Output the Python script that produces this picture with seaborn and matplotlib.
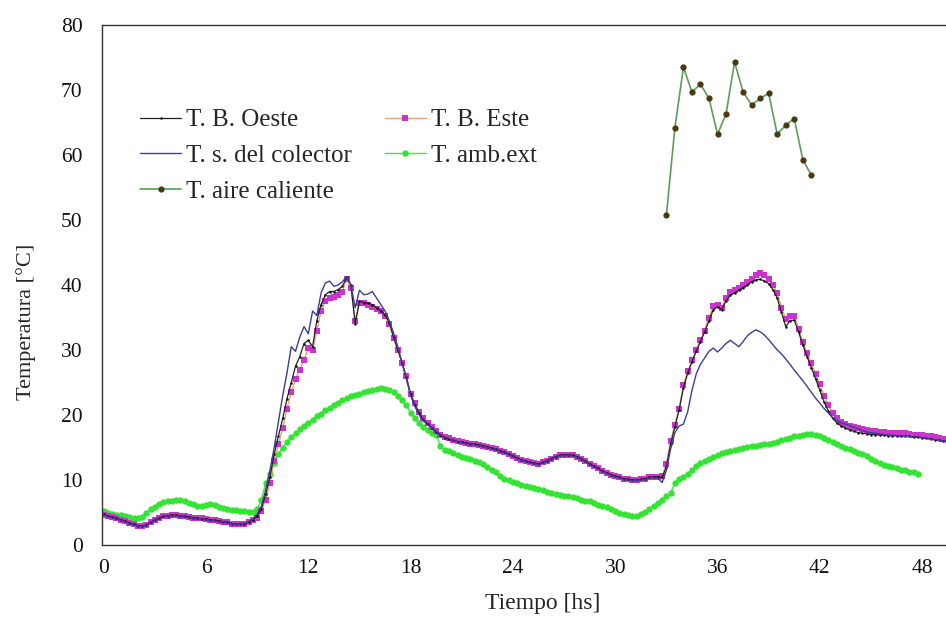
import numpy as np
import pandas as pd
import matplotlib
matplotlib.use("Agg")
import matplotlib.pyplot as plt
import seaborn as sns

# sampling grid of the logger (every 15 min), hours
hours = np.arange(0, 49.51, 0.25)
hours_amb = np.arange(0, 47.76, 0.25)
hours_aire = [33.0, 33.5, 34.0, 34.5, 35.0, 35.5, 36.0, 36.5, 37.0,
              37.5, 38.0, 38.5, 39.0, 39.5, 40.0, 40.5, 41.0, 41.5]

t_b_este = [
    4.6, 4.5, 4.3, 4.1, 3.9, 3.7, 3.4, 3.2, 3.0, 2.9, 3.1, 3.5,
    3.9, 4.2, 4.4, 4.5, 4.6, 4.6, 4.5, 4.4, 4.3, 4.2, 4.1, 4.1,
    4.0, 3.9, 3.8, 3.7, 3.6, 3.5, 3.3, 3.2, 3.3, 3.3, 3.5, 3.8,
    4.2, 5.2, 7.0, 9.5, 13.0, 15.5, 18.0, 21.0, 23.5, 25.5, 27.0, 28.5,
    30.3, 30.0, 33.0, 36.0, 37.5, 38.0, 38.2, 38.5, 39.0, 41.0, 39.5, 34.5,
    37.3, 37.2, 37.0, 36.6, 36.3, 36.0, 35.2, 34.0, 31.8, 30.0, 28.0, 26.0,
    23.3, 21.8, 20.5, 19.5, 18.8, 18.2, 17.5, 17.0, 16.6, 16.4, 16.2, 16.0,
    15.8, 15.7, 15.6, 15.5, 15.4, 15.3, 15.1, 14.9, 14.7, 14.5, 14.3, 14.0,
    13.7, 13.4, 13.1, 12.9, 12.7, 12.6, 12.5, 12.7, 13.0, 13.3, 13.6, 13.8,
    13.9, 13.9, 13.8, 13.6, 13.3, 12.9, 12.5, 12.1, 11.8, 11.4, 11.1, 10.8,
    10.6, 10.4, 10.2, 10.1, 10.0, 10.0, 10.1, 10.2, 10.4, 10.5, 10.5, 10.6,
    12.5, 16.0, 18.5, 21.0, 24.6, 26.7, 28.4, 30.0, 31.5, 33.0, 35.0, 36.8,
    37.0, 36.5, 38.0, 38.9, 39.2, 39.6, 40.0, 40.4, 41.0, 41.5, 41.8, 41.5,
    41.0, 40.0, 38.8, 36.5, 34.8, 35.2, 35.3, 33.3, 31.3, 29.5, 28.0, 26.3,
    24.7, 22.9, 21.5, 20.3, 19.5, 19.0, 18.6, 18.3, 18.1, 18.0, 17.9, 17.7,
    17.6, 17.5, 17.4, 17.4, 17.3, 17.3, 17.2, 17.2, 17.2, 17.1, 17.0, 17.0,
    16.9, 16.8, 16.7, 16.6, 16.4, 16.3, 16.1]

t_b_oeste = [
    4.7, 4.5, 4.3, 4.1, 3.9, 3.7, 3.4, 3.2, 3.0, 2.9, 3.1, 3.5,
    3.9, 4.2, 4.4, 4.5, 4.6, 4.6, 4.5, 4.4, 4.3, 4.2, 4.1, 4.0,
    4.0, 3.9, 3.8, 3.7, 3.6, 3.5, 3.3, 3.2, 3.3, 3.3, 3.5, 3.9,
    4.4, 5.6, 7.8, 10.5, 14.0, 16.8, 19.5, 22.5, 25.0, 27.5, 29.0, 31.0,
    31.5, 30.5, 34.5, 37.0, 38.5, 39.0, 39.0, 39.3, 39.8, 41.2, 40.0, 34.0,
    37.5, 37.3, 37.2, 37.0, 36.5, 36.0, 35.4, 34.2, 32.0, 30.0, 28.0, 25.8,
    23.2, 21.6, 20.3, 19.3, 18.6, 18.0, 17.4, 16.9, 16.5, 16.3, 16.1, 15.9,
    15.8, 15.7, 15.6, 15.5, 15.4, 15.3, 15.1, 14.9, 14.7, 14.5, 14.3, 14.0,
    13.7, 13.4, 13.1, 12.9, 12.7, 12.6, 12.5, 12.7, 13.0, 13.3, 13.6, 13.8,
    13.9, 13.9, 13.8, 13.6, 13.3, 12.9, 12.5, 12.1, 11.8, 11.4, 11.1, 10.8,
    10.6, 10.4, 10.2, 10.1, 10.0, 10.0, 10.1, 10.2, 10.4, 10.5, 10.5, 10.4,
    12.0, 15.5, 18.2, 20.8, 24.2, 26.4, 28.2, 29.8, 31.3, 32.8, 34.5, 36.2,
    36.6, 36.2, 37.6, 38.4, 38.8, 39.2, 39.6, 40.0, 40.5, 40.8, 40.9, 40.6,
    40.2, 39.3, 38.0, 35.8, 33.6, 34.5, 34.6, 32.8, 30.8, 29.0, 27.3, 25.6,
    23.8, 22.0, 20.6, 19.5, 18.8, 18.3, 18.0, 17.7, 17.5, 17.3, 17.2, 17.1,
    17.0, 17.0, 16.9, 16.9, 16.8, 16.8, 16.8, 16.7, 16.7, 16.7, 16.6, 16.6,
    16.5, 16.4, 16.3, 16.2, 16.1, 16.0, 15.9]

t_s_colector = [
    4.6, 4.4, 4.2, 4.0, 3.8, 3.6, 3.3, 3.1, 2.9, 2.8, 3.0, 3.4,
    3.8, 4.1, 4.3, 4.4, 4.5, 4.5, 4.4, 4.3, 4.2, 4.1, 4.0, 4.0,
    3.9, 3.8, 3.7, 3.6, 3.5, 3.4, 3.2, 3.2, 3.2, 3.3, 3.6, 4.0,
    4.8, 6.0, 8.5, 11.5, 15.0, 19.0, 23.0, 26.5, 30.5, 29.8, 32.0, 33.6,
    32.5, 36.0, 35.3, 38.8, 40.3, 40.6, 39.8, 40.0, 40.5, 41.3, 40.0, 36.5,
    39.2, 38.5, 38.6, 39.0, 38.0, 37.0, 36.0, 34.5, 32.6, 30.5, 28.0, 25.5,
    23.0, 21.3, 20.0, 19.1, 18.5, 18.0, 17.5, 17.0, 16.6, 16.4, 16.1, 15.9,
    15.7, 15.6, 15.5, 15.4, 15.3, 15.2, 15.0, 14.8, 14.6, 14.4, 14.2, 13.9,
    13.6, 13.3, 13.0, 12.8, 12.6, 12.5, 12.4, 12.6, 12.9, 13.2, 13.5, 13.7,
    13.8, 13.8, 13.7, 13.5, 13.2, 12.8, 12.4, 12.0, 11.7, 11.3, 11.0, 10.7,
    10.5, 10.3, 10.1, 10.0, 9.9, 9.9, 10.0, 10.1, 10.3, 10.4, 10.3, 9.6,
    11.5, 14.8, 17.3, 18.3, 18.6, 20.5, 23.8, 26.3, 27.8, 28.8, 29.8, 30.3,
    29.7, 30.3, 31.0, 31.5, 31.0, 30.5, 31.3, 32.2, 32.7, 33.1, 32.8, 32.3,
    31.6, 30.8, 30.0, 29.4, 28.6, 27.8, 26.9, 26.1, 25.3, 24.4, 23.5, 22.6,
    21.8, 21.0, 20.3, 19.6, 19.1, 18.8, 18.6, 18.4, 18.1, 17.9, 17.6, 17.4,
    17.3, 17.2, 17.1, 17.0, 16.9, 16.9, 16.8, 16.8, 16.7, 16.7, 16.6, 16.6,
    16.5, 16.4, 16.3, 16.2, 16.1, 16.0, 15.9]

t_amb_ext = [
    5.2, 5.0, 4.8, 4.6, 4.6, 4.5, 4.3, 4.2, 4.1, 4.3, 4.9, 5.5,
    5.9, 6.3, 6.6, 6.7, 6.8, 6.9, 6.9, 6.7, 6.5, 6.3, 6.0, 6.0,
    6.2, 6.3, 6.1, 5.9, 5.7, 5.6, 5.4, 5.4, 5.3, 5.2, 5.1, 5.1,
    5.5, 7.0, 9.5, 11.0, 12.6, 14.0, 15.0, 15.8, 16.6, 17.2, 17.8, 18.3,
    18.8, 19.3, 19.8, 20.2, 20.7, 21.1, 21.5, 21.9, 22.3, 22.6, 22.9, 23.1,
    23.3, 23.5, 23.7, 23.9, 24.0, 24.1, 24.0, 23.9, 23.5, 23.0, 22.3, 21.5,
    20.3, 19.5, 18.8, 18.2, 17.7, 17.3, 17.0, 15.2, 14.6, 14.4, 14.1, 13.8,
    13.6, 13.4, 13.2, 13.0, 12.8, 12.4, 12.0, 11.6, 11.2, 10.6, 10.2, 10.0,
    9.7, 9.5, 9.3, 9.1, 9.0, 8.8, 8.6, 8.4, 8.2, 8.0, 7.9, 7.7,
    7.6, 7.5, 7.4, 7.2, 7.0, 6.8, 6.7, 6.5, 6.2, 6.0, 5.8, 5.6,
    5.3, 5.0, 4.8, 4.6, 4.4, 4.5, 4.8, 5.1, 5.6, 6.0, 6.5, 7.0,
    7.5, 8.0, 9.6, 10.1, 10.5, 11.0, 11.6, 12.2, 12.6, 13.0, 13.3, 13.6,
    13.9, 14.1, 14.3, 14.4, 14.6, 14.8, 15.0, 15.1, 15.2, 15.3, 15.4, 15.5,
    15.6, 15.7, 15.9, 16.1, 16.3, 16.5, 16.7, 16.8, 17.0, 17.1, 17.1, 17.0,
    16.8, 16.5, 16.2, 15.9, 15.6, 15.3, 15.0, 14.7, 14.4, 14.2, 14.0, 13.7,
    13.3, 13.0, 12.6, 12.3, 12.1, 12.0, 11.8, 11.6, 11.5, 11.3, 11.2, 11.0]

t_aire_caliente = [50.7, 64.2, 73.5, 69.7, 70.9, 68.7, 63.2, 66.3, 74.3,
                   69.7, 67.7, 68.7, 69.5, 63.2, 64.6, 65.6, 59.3, 56.9]

x_ticks = [0, 6, 12, 18, 24, 30, 36, 42, 48]
y_ticks = [0, 10, 20, 30, 40, 50, 60, 70, 80]

sns.set_style("white")
plt.rcParams['font.family'] = ['Liberation Serif', 'DejaVu Serif']

fig = plt.figure(figsize=(9.46, 6.19), dpi=100)
ax = fig.add_axes([102 / 946, 1 - 545 / 619, 1 - 102 / 946, (545 - 25) / 619])

df_amb = pd.DataFrame({"h": hours_amb, "T": t_amb_ext})
df_este = pd.DataFrame({"h": hours, "T": t_b_este})
df_oeste = pd.DataFrame({"h": hours, "T": t_b_oeste})
df_col = pd.DataFrame({"h": hours, "T": t_s_colector})
df_aire = pd.DataFrame({"h": hours_aire, "T": t_aire_caliente})

sns.lineplot(data=df_amb, x="h", y="T", ax=ax, color="#3ee83e", lw=1.0,
             marker="o", markersize=4.6, markeredgewidth=0, mfc="#33e433",
             label="T. amb.ext", estimator=None, sort=False)
sns.lineplot(data=df_este, x="h", y="T", ax=ax, color="#e8a070", lw=1.0,
             marker="s", markersize=4.5, markeredgewidth=0, mfc="#cc33cc",
             label="T. B. Este", estimator=None, sort=False)
sns.lineplot(data=df_oeste, x="h", y="T", ax=ax, color="#222222", lw=0.9,
             marker="o", markersize=1.8, markeredgewidth=0, mfc="#111111",
             label="T. B. Oeste", estimator=None, sort=False)
sns.lineplot(data=df_col, x="h", y="T", ax=ax, color="#3a3f8f", lw=1.0,
             label="T. s. del colector", estimator=None, sort=False)
sns.lineplot(data=df_aire, x="h", y="T", ax=ax, color="#5c9c5c", lw=1.2,
             marker="o", markersize=4.5, markeredgewidth=0, mfc="#4a3a12",
             label="T. aire caliente", estimator=None, sort=False)

ax.set_xlim(-0.1, 49.4)
ax.set_ylim(0, 80)
ax.set_xticks(x_ticks)
ax.set_yticks(y_ticks)
ax.tick_params(axis="both", labelsize=15.5, direction="out", length=4,
               width=1, color="#333333", labelcolor="#111111")
ax.tick_params(axis="y", pad=10)
ax.tick_params(axis="x", pad=6)
for s in ["left", "bottom", "top"]:
    ax.spines[s].set_color("#333333")
    ax.spines[s].set_linewidth(1.0)
ax.spines["right"].set_visible(False)
ax.set_xlabel("Tiempo [hs]", fontsize=17)
ax.set_ylabel("Temperatura [°C]", fontsize=16)
ax.xaxis.set_label_coords((543 - 102) / 844, (545 - 593) / 520)
ax.yaxis.set_label_coords((36 - 102) / 844, (545 - 322) / 520)

handles, labels = ax.get_legend_handles_labels()
order = ["T. B. Oeste", "T. s. del colector", "T. aire caliente",
         "T. B. Este", "T. amb.ext"]
hmap = dict(zip(labels, handles))
ax.legend([hmap[k] for k in order], order, ncol=2, frameon=False,
          loc="upper left", bbox_to_anchor=(140 / 946, 1 - 109 / 619),
          bbox_transform=fig.transFigure, fontsize=18, handlelength=1.65,
          handletextpad=0.2, columnspacing=1.3, labelspacing=0.52,
          borderaxespad=0, borderpad=0)

fig.savefig("out.png", dpi=100)
